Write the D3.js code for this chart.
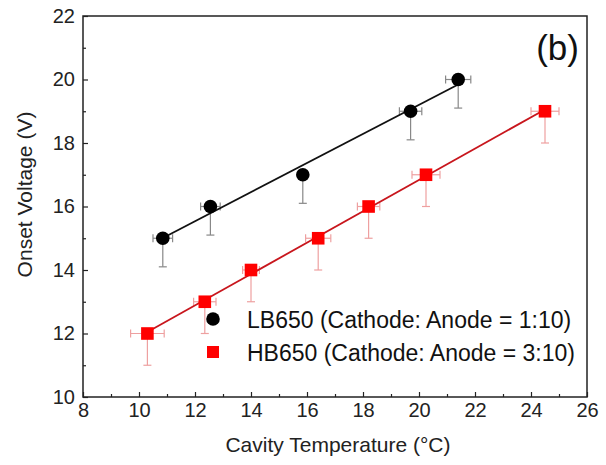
<!DOCTYPE html>
<html>
<head>
<meta charset="utf-8">
<script src="https://cdn.jsdelivr.net/npm/d3@7"></script>
<style>
  body { margin: 0; background: #fff; }
  text { font-family: Arial, "Liberation Sans", sans-serif; }
</style>
</head>
<body>
<svg id="chart" width="606" height="465"></svg>
<script>
// LB650 (Cathode: Anode = 1:10)
const lbTemp = [10.85, 12.55, 15.85, 19.7, 21.4];
const lbVolt = [15, 16, 17, 19, 20];
const lbTempErr = [0.35, 0.35, 0.15, 0.4, 0.45];
const lbVoltErr = [0.9, 0.9, 0.9, 0.9, 0.9];

// HB650 (Cathode: Anode = 3:10)
const hbTemp = [10.3, 12.35, 14.0, 16.4, 18.2, 20.25, 24.5];
const hbVolt = [12, 13, 14, 15, 16, 17, 19];
const hbTempErr = [0.6, 0.4, 0.3, 0.45, 0.4, 0.5, 0.5];
const hbVoltErr = [1, 1, 1, 1, 1, 1, 1];

const xTicks = [8, 10, 12, 14, 16, 18, 20, 22, 24, 26];
const yTicks = [10, 12, 14, 16, 18, 20, 22];

const svg = d3.select("#chart");
const pLeft = 83, pRight = 587, pTop = 16, pBottom = 397;

const x = d3.scaleLinear().domain([8, 26]).range([pLeft, pRight]);
const y = d3.scaleLinear().domain([10, 22]).range([pBottom, pTop]);

// frame
svg.append("rect")
    .attr("x", pLeft).attr("y", pTop)
    .attr("width", pRight - pLeft).attr("height", pBottom - pTop)
    .attr("fill", "none").attr("stroke", "#222").attr("stroke-width", 1.5);

// axes, ticks pointing inward
const minorX = d3.range(9, 26, 2);
const minorY = d3.range(11, 22, 2);

svg.append("g").attr("transform", `translate(0,${pBottom})`)
    .call(d3.axisBottom(x).tickValues(xTicks).tickSize(-5).tickPadding(6).tickFormat(d3.format("d")));
svg.append("g").attr("transform", `translate(0,${pBottom})`)
    .call(d3.axisBottom(x).tickValues(minorX).tickSize(-3).tickFormat(""));

svg.append("g").attr("transform", `translate(${pLeft},0)`)
    .call(d3.axisLeft(y).tickValues(yTicks).tickSize(-5).tickPadding(8).tickFormat(d3.format("d")));
svg.append("g").attr("transform", `translate(${pLeft},0)`)
    .call(d3.axisLeft(y).tickValues(minorY).tickSize(-3).tickFormat(""));

svg.selectAll(".domain").remove();
svg.selectAll(".tick line").attr("stroke", "#222").attr("stroke-width", 1.2);
svg.selectAll(".tick text").attr("font-size", 20).attr("fill", "#222")
    .attr("font-family", "Arial, 'Liberation Sans', sans-serif");

// axis titles
svg.append("text")
    .attr("x", 338).attr("y", 452)
    .attr("text-anchor", "middle").attr("font-size", 21).attr("fill", "#222")
    .text("Cavity Temperature (°C)");
svg.append("text")
    .attr("transform", `translate(32,${(pTop + pBottom) / 2 - 12}) rotate(-90)`)
    .attr("text-anchor", "middle").attr("font-size", 21).attr("fill", "#222")
    .text("Onset Voltage (V)");

// panel label
svg.append("text")
    .attr("x", 579).attr("y", 60)
    .attr("text-anchor", "end").attr("font-size", 35).attr("fill", "#111")
    .text("(b)");

// least-squares fit line between the outer points
function fit(xs, ys) {
    const mx = d3.mean(xs), my = d3.mean(ys);
    const sxy = d3.sum(xs, (v, i) => (v - mx) * (ys[i] - my));
    const sxx = d3.sum(xs, v => (v - mx) * (v - mx));
    const b = sxy / sxx, a = my - b * mx;
    const x0 = d3.min(xs), x1 = d3.max(xs);
    return [[x0, a + b * x0], [x1, a + b * x1]];
}

function drawSeries(xs, ys, xe, ye, opts) {
    const g = svg.append("g");
    const pts = xs.map((v, i) => ({ x: v, y: ys[i], xe: xe[i], ye: ye[i] }));

    // lower y error bars
    g.selectAll(".ey").data(pts).enter().append("line")
        .attr("x1", d => x(d.x)).attr("x2", d => x(d.x))
        .attr("y1", d => y(d.y)).attr("y2", d => y(d.y - d.ye))
        .attr("stroke", opts.errColor).attr("stroke-width", 1.2);
    g.selectAll(".eyc").data(pts).enter().append("line")
        .attr("x1", d => x(d.x) - 4).attr("x2", d => x(d.x) + 4)
        .attr("y1", d => y(d.y - d.ye)).attr("y2", d => y(d.y - d.ye))
        .attr("stroke", opts.errColor).attr("stroke-width", 1.2);

    // x error bars with end caps
    g.selectAll(".ex").data(pts).enter().append("line")
        .attr("x1", d => x(d.x - d.xe)).attr("x2", d => x(d.x + d.xe))
        .attr("y1", d => y(d.y)).attr("y2", d => y(d.y))
        .attr("stroke", opts.errColor).attr("stroke-width", 1.2);
    pts.forEach(function (d) {
        [d.x - d.xe, d.x + d.xe].forEach(function (v) {
            g.append("line")
                .attr("x1", x(v)).attr("x2", x(v))
                .attr("y1", y(d.y) - 4).attr("y2", y(d.y) + 4)
                .attr("stroke", opts.errColor).attr("stroke-width", 1.2);
        });
    });

    // fit line
    const seg = fit(xs, ys);
    g.append("path")
        .attr("d", d3.line().x(d => x(d[0])).y(d => y(d[1]))(seg))
        .attr("stroke", opts.lineColor).attr("stroke-width", 1.8).attr("fill", "none");

    // markers
    if (opts.shape === "circle") {
        g.selectAll(".m").data(pts).enter().append("circle")
            .attr("cx", d => x(d.x)).attr("cy", d => y(d.y)).attr("r", 6.8)
            .attr("fill", opts.color);
    } else {
        g.selectAll(".m").data(pts).enter().append("rect")
            .attr("x", d => x(d.x) - 6.3).attr("y", d => y(d.y) - 6.3)
            .attr("width", 12.6).attr("height", 12.6)
            .attr("fill", opts.color);
    }
}

drawSeries(lbTemp, lbVolt, lbTempErr, lbVoltErr,
    { color: "#000", lineColor: "#111", errColor: "#888", shape: "circle" });
drawSeries(hbTemp, hbVolt, hbTempErr, hbVoltErr,
    { color: "#f00", lineColor: "#c8161d", errColor: "#eea0a0", shape: "square" });

// legend
const legend = svg.append("g");
legend.append("circle").attr("cx", 213).attr("cy", 319).attr("r", 6.8).attr("fill", "#000");
legend.append("rect").attr("x", 207).attr("y", 346).attr("width", 12).attr("height", 12).attr("fill", "#f00");
legend.append("text").attr("x", 247).attr("y", 328).attr("font-size", 23).attr("fill", "#111")
    .text("LB650 (Cathode: Anode = 1:10)");
legend.append("text").attr("x", 247).attr("y", 361).attr("font-size", 23).attr("fill", "#111")
    .text("HB650 (Cathode: Anode = 3:10)");
</script>
</body>
</html>
